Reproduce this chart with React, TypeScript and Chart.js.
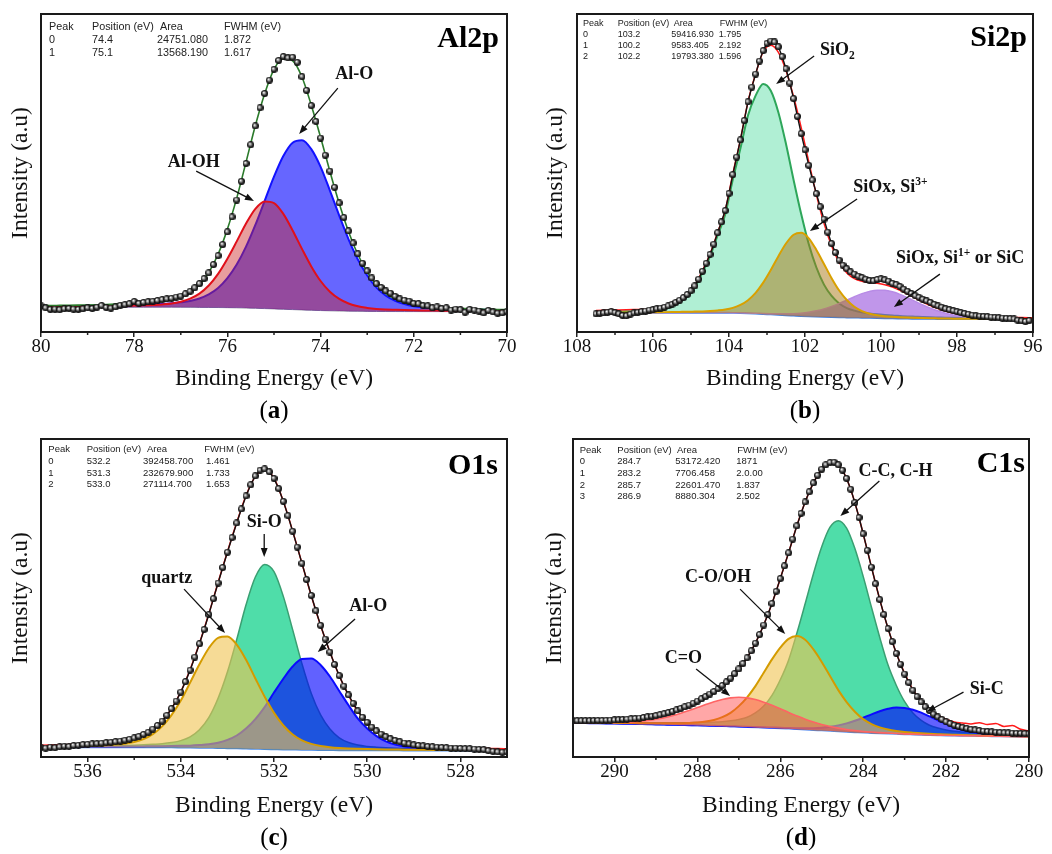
import React, { useEffect, useRef } from "react";
import { Chart, registerables } from "chart.js";

Chart.register(...registerables);

// ---------- shared sampling ----------
const fitStep = 0.2; // eV spacing of fitted curves
const dotStep = 0.1; // eV spacing of measured points

// ---------- (a) Al2p ----------
const alFitStart = 80;
const alDotStart = 80;
const alTicks = [70, 72, 74, 76, 78, 80];
const alMinorTicks = [71, 73, 75, 77, 79];
const alBackground = [7.8, 7.8, 7.8, 7.8, 7.8, 7.8, 7.8, 7.8, 7.8, 7.8, 7.8, 7.8, 7.8, 7.8, 7.8, 7.78, 7.76, 7.74, 7.72, 7.69, 7.65, 7.6, 7.53, 7.45, 7.36, 7.26, 7.15, 7.04, 6.93, 6.83, 6.74, 6.66, 6.6, 6.55, 6.51, 6.48, 6.46, 6.44, 6.43, 6.42, 6.42, 6.41, 6.41, 6.41, 6.4, 6.4, 6.4, 6.4, 6.4, 6.4, 6.4];
const alOxide = [8.09, 8.12, 8.15, 8.17, 8.2, 8.23, 8.27, 8.31, 8.37, 8.43, 8.48, 8.59, 8.71, 8.82, 9.03, 9.33, 9.76, 10.54, 11.82, 13.84, 16.95, 21.2, 26.83, 33.65, 41.26, 48.86, 55.35, 59.54, 60.33, 57.53, 51.94, 44.46, 36.6, 29.15, 22.81, 17.78, 13.96, 11.44, 9.83, 8.77, 8.11, 7.75, 7.51, 7.35, 7.24, 7.16, 7.07, 7.0, 6.95, 6.9, 6.85];
const alHydroxide = [7.98, 8.0, 8.01, 8.03, 8.05, 8.08, 8.11, 8.15, 8.19, 8.24, 8.31, 8.38, 8.51, 8.68, 8.95, 9.54, 10.51, 12.08, 14.62, 18.29, 23.05, 28.5, 34.13, 38.75, 41.06, 40.56, 37.15, 31.94, 26.13, 20.63, 16.04, 12.66, 10.4, 8.95, 8.07, 7.58, 7.26, 7.09, 6.99, 6.9, 6.84, 6.79, 6.76, 6.72, 6.69, 6.67, 6.65, 6.63, 6.61, 6.6, 6.59];
const alEnvelope = [8.27, 8.32, 8.36, 8.4, 8.45, 8.51, 8.58, 8.66, 8.76, 8.87, 8.99, 9.17, 9.42, 9.7, 10.18, 11.09, 12.51, 14.88, 18.72, 24.44, 32.35, 42.1, 53.43, 64.95, 74.96, 82.6, 86.0, 85.3, 80.2, 71.33, 61.24, 50.46, 40.4, 31.55, 24.37, 18.88, 14.76, 12.09, 10.39, 9.25, 8.54, 8.11, 7.85, 7.65, 7.5, 7.41, 7.3, 7.22, 7.15, 7.08, 7.03];
const alMeasured = [8.2, 7.6, 7.1, 7.2, 7.0, 7.3, 7.4, 7.2, 7.1, 7.3, 7.6, 7.4, 7.8, 8.3, 7.7, 7.5, 7.9, 8.4, 8.6, 8.9, 9.6, 9.0, 9.3, 9.5, 9.7, 9.9, 10.2, 10.4, 10.6, 11.0, 11.3, 12.0, 12.8, 13.9, 15.2, 16.8, 18.6, 21.2, 24.0, 27.5, 31.5, 36.2, 41.5, 47.4, 53.0, 58.9, 64.8, 70.5, 75.0, 79.2, 82.6, 85.4, 86.6, 86.2, 86.4, 84.8, 80.3, 76.0, 71.2, 66.2, 61.0, 55.6, 50.6, 45.5, 40.6, 36.0, 31.8, 28.0, 24.6, 21.6, 19.2, 17.0, 15.2, 14.0, 12.9, 12.2, 11.2, 10.4, 10.0, 9.7, 9.0, 8.9, 8.3, 8.2, 7.6, 7.9, 7.4, 7.6, 6.9, 7.2, 7.0, 6.2, 7.1, 6.9, 6.6, 6.0, 6.8, 6.3, 5.9, 6.0, 6.4];
const alTable = [
  ["Peak", "Position (eV)", "Area", "FWHM (eV)"],
  ["0", "74.4", "24751.080", "1.872"],
  ["1", "75.1", "13568.190", "1.617"],
];

// ---------- (b) Si2p ----------
const siFitStart = 107.5;
const siDotStart = 107.5;
const siTicks = [96, 98, 100, 102, 104, 106, 108];
const siMinorTicks = [97, 99, 101, 103, 105, 107];
const siBackground = [6, 6, 6, 6, 6, 6, 6, 6, 6, 6, 6, 6, 6, 6, 6, 6, 6, 5.98, 5.95, 5.9, 5.82, 5.72, 5.6, 5.47, 5.35, 5.22, 5.1, 4.98, 4.87, 4.78, 4.7, 4.63, 4.57, 4.52, 4.47, 4.42, 4.37, 4.32, 4.27, 4.22, 4.18, 4.14, 4.11, 4.08, 4.06, 4.04, 4.02, 4, 4, 4, 4, 4, 4, 4, 4, 4, 4, 4, 4];
const siDioxide = [6.35, 6.38, 6.42, 6.46, 6.5, 6.55, 6.62, 6.72, 6.95, 7.4, 8.2, 9.5, 11.5, 14.1, 18.7, 23.8, 30.4, 36.98, 47.95, 57.7, 68.12, 74.32, 78.0, 75.87, 69.05, 59.12, 47.8, 37.08, 27.57, 20.28, 14.9, 11.33, 8.97, 7.52, 6.72, 6.17, 5.82, 5.55, 5.34, 5.16, 5.03, 4.9, 4.81, 4.72, 4.64, 4.58, 4.52, 4.47, 4.44, 4.41, 4.38, 4.36, 4.34, 4.32, 4.3, 4.29, 4.28, 4.27, 4.26];
const siSuboxide3 = [6.11, 6.12, 6.13, 6.14, 6.16, 6.17, 6.19, 6.21, 6.23, 6.25, 6.28, 6.32, 6.36, 6.42, 6.48, 6.6, 6.78, 7.06, 7.59, 8.5, 10.01, 12.32, 15.51, 19.47, 23.85, 27.82, 30.6, 31.23, 29.47, 25.78, 21.4, 16.93, 13.04, 10.07, 7.94, 6.58, 5.75, 5.26, 4.96, 4.77, 4.63, 4.53, 4.45, 4.38, 4.32, 4.28, 4.24, 4.2, 4.19, 4.17, 4.16, 4.15, 4.14, 4.13, 4.12, 4.12, 4.11, 4.11, 4.1];
const siSuboxide1 = [6.04, 6.04, 6.05, 6.05, 6.05, 6.06, 6.06, 6.07, 6.07, 6.08, 6.08, 6.09, 6.09, 6.1, 6.1, 6.11, 6.12, 6.1, 6.08, 6.04, 5.98, 5.91, 5.82, 5.75, 5.71, 5.72, 5.76, 5.91, 6.2, 6.66, 7.25, 8.05, 8.99, 10.04, 11.09, 12.06, 12.78, 13.16, 13.11, 12.63, 11.82, 10.76, 9.63, 8.5, 7.48, 6.59, 5.9, 5.33, 4.93, 4.66, 4.48, 4.36, 4.28, 4.22, 4.19, 4.16, 4.15, 4.13, 4.12];
const siEnvelope = [6.8, 6.85, 6.9, 6.95, 7.0, 7.05, 7.1, 7.2, 7.4, 7.85, 8.56, 9.91, 11.95, 14.62, 19.28, 24.51, 31.3, 38.18, 49.72, 60.44, 72.47, 81.11, 88.13, 90.15, 87.91, 82.22, 73.96, 64.26, 53.5, 43.16, 34.15, 27.05, 21.86, 18.59, 16.81, 15.97, 15.61, 15.33, 14.87, 14.12, 13.12, 11.91, 10.67, 9.44, 8.32, 7.37, 6.62, 6.0, 5.56, 5.24, 5.02, 4.87, 4.76, 4.67, 4.61, 4.57, 4.54, 4.51, 4.48];
const siMeasured = [5.7, 5.9, 6.0, 6.2, 6.4, 6.1, 5.7, 5.2, 5.1, 5.6, 6.0, 6.2, 6.4, 6.6, 6.9, 7.0, 7.3, 7.5, 7.8, 8.2, 8.7, 9.3, 10.0, 10.8, 11.8, 13.0, 14.5, 16.6, 19.1, 21.6, 24.4, 27.6, 31.2, 34.6, 38.2, 43.6, 49.5, 55.0, 60.4, 66.5, 72.4, 77.0, 81.1, 85.2, 88.5, 90.8, 91.5, 91.2, 89.7, 86.6, 82.8, 78.3, 73.4, 67.8, 62.4, 57.3, 52.4, 47.8, 43.5, 39.4, 35.5, 31.4, 27.8, 25.0, 22.6, 21.0, 19.9, 18.9, 18.2, 17.6, 17.1, 16.6, 16.2, 16.1, 16.5, 16.7, 16.4, 16.0, 15.3, 14.9, 14.3, 13.5, 12.8, 12.1, 11.4, 10.9, 10.3, 9.8, 9.3, 8.7, 8.2, 7.8, 7.3, 7.0, 6.7, 6.4, 6.1, 5.8, 5.6, 5.3, 5.1, 5.0, 4.9, 4.8, 4.7, 4.6, 4.5, 4.4, 4.3, 4.2, 4.1, 3.7, 3.5, 3.3, 3.6];
const siTable = [
  ["Peak", "Position (eV)", "Area", "FWHM (eV)"],
  ["0", "103.2", "59416.930", "1.795"],
  ["1", "100.2", "9583.405", "2.192"],
  ["2", "102.2", "19793.380", "1.596"],
];

// ---------- (c) O1s ----------
const oFitStart = 537;
const oDotStart = 537;
const oTicks = [528, 530, 532, 534, 536];
const oMinorTicks = [529, 531, 533, 535];
const oBackground = [3, 3, 3, 3, 3, 3, 3, 3, 3, 3, 3, 3, 3, 2.98, 2.96, 2.93, 2.9, 2.86, 2.81, 2.76, 2.7, 2.64, 2.57, 2.5, 2.43, 2.37, 2.31, 2.26, 2.21, 2.17, 2.14, 2.11, 2.08, 2.06, 2.05, 2.04, 2.03, 2.02, 2.01, 2, 2, 2, 2, 2, 2, 2, 2, 2, 2, 2, 2];
const oSilica = [3.26, 3.28, 3.3, 3.34, 3.37, 3.41, 3.45, 3.51, 3.56, 3.64, 3.73, 3.85, 4.0, 4.17, 4.53, 5.15, 6.33, 8.56, 12.36, 18.46, 26.7, 36.94, 47.87, 56.6, 60.53, 58.27, 50.51, 40.06, 29.31, 19.97, 13.24, 8.81, 6.04, 4.56, 3.74, 3.32, 3.08, 2.9, 2.77, 2.67, 2.59, 2.52, 2.46, 2.42, 2.38, 2.35, 2.31, 2.29, 2.26, 2.24, 2.23];
const oQuartz = [3.3, 3.33, 3.36, 3.41, 3.46, 3.53, 3.6, 3.73, 3.9, 4.2, 4.73, 5.66, 7.21, 9.64, 13.16, 17.73, 23.4, 29.16, 34.21, 37.46, 37.9, 35.34, 30.57, 24.7, 18.93, 13.87, 9.91, 7.06, 5.21, 4.12, 3.47, 3.09, 2.85, 2.7, 2.6, 2.52, 2.45, 2.39, 2.35, 2.31, 2.28, 2.26, 2.24, 2.22, 2.21, 2.2, 2.19, 2.18, 2.17, 2.16, 2.15];
const oAlumina = [3.13, 3.14, 3.15, 3.16, 3.17, 3.19, 3.21, 3.23, 3.25, 3.27, 3.29, 3.33, 3.37, 3.4, 3.44, 3.5, 3.57, 3.75, 4.0, 4.5, 5.37, 6.76, 8.95, 11.93, 15.73, 20.27, 24.61, 28.46, 30.81, 30.97, 28.94, 25.31, 20.78, 16.26, 12.05, 8.94, 6.55, 4.92, 3.9, 3.28, 2.93, 2.7, 2.58, 2.49, 2.43, 2.38, 2.34, 2.3, 2.28, 2.25, 2.23];
const oEnvelope = [3.69, 3.75, 3.81, 3.91, 4.0, 4.13, 4.26, 4.47, 4.71, 5.11, 5.75, 6.84, 8.58, 11.25, 15.21, 20.52, 27.5, 35.75, 44.95, 54.9, 64.57, 73.76, 82.25, 88.23, 90.33, 87.67, 80.41, 71.06, 60.91, 50.72, 41.37, 32.99, 25.51, 19.4, 14.29, 10.7, 8.02, 6.17, 5.0, 4.26, 3.8, 3.48, 3.28, 3.13, 3.02, 2.93, 2.84, 2.77, 2.71, 2.65, 2.61];
const oMeasured = [3.0, 2.8, 3.1, 2.9, 3.2, 3.4, 3.3, 3.6, 3.7, 3.9, 4.0, 4.1, 4.2, 4.35, 4.5, 4.65, 4.8, 5.0, 5.3, 5.6, 6.0, 6.5, 7.1, 7.8, 8.8, 9.9, 11.3, 13.1, 15.2, 17.6, 20.4, 23.7, 27.3, 31.4, 35.6, 40.1, 44.8, 49.8, 54.7, 59.6, 64.4, 69.0, 73.6, 78.0, 82.1, 85.6, 88.4, 90.2, 90.6, 89.7, 87.6, 84.4, 80.4, 75.9, 71.0, 66.0, 60.9, 55.8, 50.8, 46.0, 41.4, 37.1, 33.0, 29.1, 25.6, 22.3, 19.5, 16.9, 14.5, 12.5, 10.9, 9.4, 8.2, 7.2, 6.4, 5.7, 5.2, 4.8, 4.4, 4.1, 3.8, 3.6, 3.5, 3.3, 3.2, 3.1, 3.0, 2.9, 2.8, 2.8, 2.7, 2.6, 2.6, 2.5, 2.4, 2.3, 2.0, 1.8, 1.6, 1.5, 1.6];
const oTable = [
  ["Peak", "Position (eV)", "Area", "FWHM (eV)"],
  ["0", "532.2", "392458.700", "1.461"],
  ["1", "531.3", "232679.900", "1.733"],
  ["2", "533.0", "271114.700", "1.653"],
];

// ---------- (d) C1s ----------
const cFitStart = 291;
const cDotStart = 291;
const cTicks = [280, 282, 284, 286, 288, 290];
const cMinorTicks = [281, 283, 285, 287, 289];
const cBackground = [10.7, 10.66, 10.62, 10.58, 10.54, 10.5, 10.44, 10.38, 10.32, 10.26, 10.2, 10.14, 10.08, 10.02, 9.96, 9.9, 9.82, 9.74, 9.66, 9.58, 9.5, 9.4, 9.3, 9.2, 9.1, 9.0, 8.86, 8.72, 8.58, 8.44, 8.3, 8.16, 8.02, 7.88, 7.74, 7.6, 7.5, 7.4, 7.3, 7.2, 7.1, 7.02, 6.94, 6.86, 6.78, 6.7, 6.66, 6.62, 6.58, 6.54, 6.5, 6.46, 6.42, 6.38, 6.34, 6.3];
const cHydrocarbon = [10.98, 10.95, 10.93, 10.91, 10.9, 10.88, 10.85, 10.82, 10.8, 10.78, 10.78, 10.76, 10.76, 10.78, 10.79, 10.84, 10.88, 10.96, 11.09, 11.37, 11.82, 12.52, 13.87, 16.03, 19.4, 24.3, 30.46, 38.92, 48.18, 57.64, 66.1, 72.26, 74.32, 71.98, 65.54, 56.8, 47.1, 37.6, 28.9, 22.5, 17.4, 13.85, 11.51, 9.98, 9.1, 8.49, 8.09, 7.84, 7.64, 7.48, 7.33, 7.22, 7.1, 7.0, 6.92, 6.82];
const cHydroxyl = [10.86, 10.84, 10.81, 10.79, 10.76, 10.75, 10.71, 10.67, 10.64, 10.62, 10.6, 10.59, 10.6, 10.64, 10.71, 10.87, 11.14, 11.64, 12.53, 13.89, 16.0, 18.78, 22.3, 26.5, 30.7, 34.4, 37.16, 38.02, 36.88, 33.84, 29.9, 25.46, 21.02, 17.26, 14.24, 11.91, 10.37, 9.3, 8.62, 8.17, 7.85, 7.64, 7.46, 7.31, 7.18, 7.06, 6.98, 6.91, 6.85, 6.79, 6.72, 6.67, 6.61, 6.56, 6.5, 6.45];
const cCarbonyl = [10.87, 10.85, 10.84, 10.84, 10.85, 10.9, 10.94, 11.05, 11.22, 11.49, 11.86, 12.33, 12.99, 13.74, 14.61, 15.55, 16.48, 17.37, 18.11, 18.6, 18.79, 18.6, 18.07, 17.25, 16.26, 15.16, 14.0, 12.91, 11.88, 10.98, 10.22, 9.58, 9.07, 8.65, 8.32, 8.04, 7.84, 7.68, 7.53, 7.4, 7.28, 7.18, 7.09, 7.0, 6.91, 6.82, 6.77, 6.73, 6.68, 6.64, 6.59, 6.55, 6.5, 6.46, 6.42, 6.37];
const cCarbide = [10.73, 10.69, 10.65, 10.61, 10.57, 10.53, 10.48, 10.42, 10.36, 10.3, 10.25, 10.19, 10.13, 10.08, 10.02, 9.97, 9.9, 9.82, 9.75, 9.67, 9.6, 9.52, 9.43, 9.34, 9.27, 9.2, 9.11, 9.04, 9.02, 9.07, 9.22, 9.5, 9.95, 10.58, 11.4, 12.36, 13.41, 14.4, 15.15, 15.54, 15.44, 14.87, 13.94, 12.77, 11.54, 10.36, 9.36, 8.55, 7.92, 7.46, 7.13, 6.9, 6.74, 6.63, 6.54, 6.47];
const cRaw = [11.6, 11.3, 11.5, 11.3, 11.6, 11.7, 11.8, 12.2, 12.6, 13.0, 13.5, 13.9, 14.5, 15.4, 16.3, 17.6, 19.0, 20.6, 22.5, 24.8, 27.7, 31.2, 35.8, 41.5, 48.3, 56.1, 64.2, 72.7, 80.2, 86.2, 90.5, 92.8, 92.0, 87.6, 80.0, 70.2, 59.7, 49.5, 40.4, 32.6, 26.3, 21.2, 17.6, 15.0, 13.2, 11.9, 11.0, 10.7, 10.4, 10.8, 10.2, 10.5, 9.6, 9.9, 8.7, 8.2];
const cMeasured = [11.4, 11.4, 11.4, 11.4, 11.4, 11.45, 11.5, 11.5, 11.55, 11.6, 11.65, 11.7, 11.8, 11.9, 12.0, 12.1, 12.25, 12.4, 12.6, 12.8, 13.0, 13.3, 13.6, 13.95, 14.35, 14.8, 15.3, 15.8, 16.35, 16.95, 17.6, 18.3, 19.0, 19.8, 20.6, 21.5, 22.5, 23.6, 24.8, 26.2, 27.7, 29.4, 31.2, 33.4, 35.8, 38.5, 41.5, 44.8, 48.3, 52.1, 56.1, 60.1, 64.2, 68.5, 72.7, 76.6, 80.2, 83.4, 86.2, 88.6, 90.5, 91.9, 92.6, 92.7, 91.9, 90.2, 87.6, 84.2, 80.0, 75.3, 70.2, 65.0, 59.7, 54.5, 49.5, 44.8, 40.4, 36.3, 32.6, 29.2, 26.1, 23.4, 21.0, 19.0, 17.3, 15.8, 14.6, 13.5, 12.6, 11.8, 11.1, 10.5, 10.0, 9.6, 9.25, 8.95, 8.7, 8.5, 8.3, 8.15, 8.0, 7.9, 7.8, 7.7, 7.6, 7.55, 7.5, 7.45, 7.4, 7.35, 7.3];
const cTable = [
  ["Peak", "Position (eV)", "Area", "FWHM (eV)"],
  ["0", "284.7", "53172.420", "1871"],
  ["1", "283.2", "7706.458", "2.0.00"],
  ["2", "285.7", "22601.470", "1.837"],
  ["3", "286.9", "8880.304", "2.502"],
];

// ---------- helpers ----------
const toPoints = (start: number, step: number, ys: number[]) =>
  ys.map((y, i) => ({ x: Math.round((start - i * step) * 100) / 100, y }));

type Seg = { t: string; sub?: boolean; sup?: boolean };
type Note = { segs: Seg[]; x: number; y: number; arrow: number[] };

const SERIF = '"Liberation Serif", "Times New Roman", serif';
const SANS = '"Liberation Sans", Arial, sans-serif';

function makeSphere(d: number) {
  const c = document.createElement("canvas");
  c.width = d;
  c.height = d;
  const g = c.getContext("2d")!;
  const r = d / 2;
  const grad = g.createRadialGradient(r * 0.72, r * 0.72, 0.2, r, r, r);
  grad.addColorStop(0, "#ffffff");
  grad.addColorStop(0.3, "#9a9a9a");
  grad.addColorStop(0.65, "#2a2a2a");
  grad.addColorStop(1, "#050505");
  g.fillStyle = grad;
  g.beginPath();
  g.arc(r, r, r, 0, Math.PI * 2);
  g.fill();
  return c;
}

function dotsSet(data: any[], sphere: HTMLCanvasElement, withLine: boolean) {
  return {
    data,
    showLine: withLine,
    borderColor: "#111",
    borderWidth: 1.4,
    pointStyle: sphere,
    pointRadius: 3.5,
    pointHoverRadius: 3.5,
    tension: 0,
    fill: false,
  };
}
function lineSet(data: any[], color: string, width: number, fillTarget?: number, fillColor?: string) {
  return {
    data,
    borderColor: color,
    borderWidth: width,
    pointRadius: 0,
    cubicInterpolationMode: "monotone",
    fill: fillTarget === undefined ? false : fillTarget,
    backgroundColor: fillColor || "transparent",
  };
}

const HEADER = 0;

interface PanelSpec {
  key: string;
  left: number;
  top: number;
  width: number;
  height: number;
  area: { left: number; top: number; right: number; bottom: number };
  xMin: number;
  xMax: number;
  majorTicks: number[];
  minorTicks: number[];
  yTitlePad: number;
  build: (s: HTMLCanvasElement) => any[];
  table: { rows: string[][]; headX: number[]; cellX: number[]; rowY: number[]; size: number };
  title: { text: string; right: number; baseline: number };
  notes: Note[];
  caption: { letter: string; x: number; baseline: number };
}

const panels: PanelSpec[] = [
  {
    key: "a",
    left: 0,
    top: 0,
    width: 526,
    height: 427,
    area: { left: 41, top: 14, right: 507, bottom: 332 },
    xMin: 70,
    xMax: 80,
    majorTicks: alTicks,
    minorTicks: alMinorTicks,
    yTitlePad: 7,
    build: (s) => [
      dotsSet(toPoints(alDotStart, dotStep, alMeasured), s, false),
      lineSet(toPoints(alFitStart, fitStep, alEnvelope), "#2b7a2b", 1.6),
      lineSet(toPoints(alFitStart, fitStep, alHydroxide), "#e0101a", 2, 4, "rgba(205,40,40,0.45)"),
      lineSet(toPoints(alFitStart, fitStep, alOxide), "#1212ff", 2, 4, "rgba(0,0,255,0.6)"),
      lineSet(toPoints(alFitStart, fitStep, alBackground), "#9090a0", 1),
    ],
    table: { rows: alTable, headX: [49, 92, 160, 224], cellX: [49, 92, 157, 224], rowY: [26.7, 39.9, 53.1], size: 10.8 },
    title: { text: "Al2p", right: 499, baseline: 46.5 },
    notes: [
      { segs: [{ t: "Al-O" }], x: 73.28, y: 81.4, arrow: [73.63, 76.7, 74.46, 62.3] },
      { segs: [{ t: "Al-OH" }], x: 76.72, y: 53.8, arrow: [76.67, 50.6, 75.43, 41.2] },
    ],
    caption: { letter: "a", x: 274, baseline: 418 },
  },
  {
    key: "b",
    left: 526,
    top: 0,
    width: 526,
    height: 427,
    area: { left: 51, top: 14, right: 507, bottom: 332 },
    xMin: 96,
    xMax: 108,
    majorTicks: siTicks,
    minorTicks: siMinorTicks,
    yTitlePad: 16,
    build: (s) => [
      dotsSet(toPoints(siDotStart, dotStep, siMeasured), s, true),
      lineSet(toPoints(siFitStart, fitStep, siEnvelope), "#ff1a1a", 1.5),
      lineSet(toPoints(siFitStart, fitStep, siSuboxide3), "#d9a000", 2, 5, "rgba(170,120,20,0.5)"),
      lineSet(toPoints(siFitStart, fitStep, siSuboxide1), "#b88be6", 1.5, 5, "rgba(150,80,220,0.6)"),
      lineSet(toPoints(siFitStart, fitStep, siDioxide), "#2ea65a", 2, 5, "rgba(80,220,160,0.45)"),
      lineSet(toPoints(siFitStart, fitStep, siBackground), "#3b7de0", 1.5),
    ],
    table: { rows: siTable, headX: [57, 91.7, 147.7, 193.7], cellX: [57, 91.7, 145.3, 192.7], rowY: [24, 35, 46, 57], size: 9 },
    title: { text: "Si2p", right: 501, baseline: 46 },
    notes: [
      { segs: [{ t: "SiO" }, { t: "2", sub: true }], x: 101.15, y: 89.0, arrow: [101.76, 86.8, 102.76, 78.0] },
      { segs: [{ t: "SiOx, Si" }, { t: "3+", sup: true }], x: 99.75, y: 46.0, arrow: [100.63, 41.8, 101.87, 31.8] },
      { segs: [{ t: "SiOx, Si" }, { t: "1+", sup: true }, { t: " or SiC" }], x: 97.92, y: 23.6, arrow: [98.45, 18.2, 99.66, 7.9] },
    ],
    caption: { letter: "b", x: 279, baseline: 418 },
  },
  {
    key: "c",
    left: 0,
    top: 427,
    width: 526,
    height: 427,
    area: { left: 41, top: 12, right: 507, bottom: 330 },
    xMin: 527,
    xMax: 537,
    majorTicks: oTicks,
    minorTicks: oMinorTicks,
    yTitlePad: 7,
    build: (s) => [
      dotsSet(toPoints(oDotStart, dotStep, oMeasured), s, true),
      lineSet(toPoints(oFitStart, fitStep, oEnvelope), "#ff1a1a", 1.5),
      lineSet(toPoints(oFitStart, fitStep, oQuartz), "#d49b00", 2, 5, "rgba(240,195,80,0.6)"),
      lineSet(toPoints(oFitStart, fitStep, oAlumina), "#0a0aff", 2, 5, "rgba(0,0,255,0.62)"),
      lineSet(toPoints(oFitStart, fitStep, oSilica), "#3a9f72", 1.5, 5, "rgba(20,210,140,0.75)"),
      lineSet(toPoints(oFitStart, fitStep, oBackground), "#4a8be8", 1.5),
    ],
    table: { rows: oTable, headX: [48.3, 86.7, 147, 204.3], cellX: [48.3, 86.7, 143, 206], rowY: [22.7, 34.3, 46, 57.7], size: 9.5 },
    title: { text: "O1s", right: 498, baseline: 47 },
    notes: [
      { segs: [{ t: "Si-O" }], x: 532.21, y: 74.2, arrow: [532.21, 70.1, 532.21, 62.9] },
      { segs: [{ t: "quartz" }], x: 534.3, y: 56.6, arrow: [533.93, 52.8, 533.05, 39.0] },
      { segs: [{ t: "Al-O" }], x: 529.98, y: 47.8, arrow: [530.26, 43.4, 531.06, 33.0] },
    ],
    caption: { letter: "c", x: 274, baseline: 418 },
  },
  {
    key: "d",
    left: 526,
    top: 427,
    width: 526,
    height: 427,
    area: { left: 47, top: 12, right: 503, bottom: 330 },
    xMin: 280,
    xMax: 291,
    majorTicks: cTicks,
    minorTicks: cMinorTicks,
    yTitlePad: 15,
    build: (s) => [
      dotsSet(toPoints(cDotStart, dotStep, cMeasured), s, true),
      lineSet(toPoints(cFitStart, fitStep, cRaw), "#ff1a1a", 1.5),
      lineSet(toPoints(cFitStart, fitStep, cCarbonyl), "#ff6464", 1.6, 6, "rgba(255,60,60,0.45)"),
      lineSet(toPoints(cFitStart, fitStep, cHydroxyl), "#d49b00", 2, 6, "rgba(240,195,80,0.6)"),
      lineSet(toPoints(cFitStart, fitStep, cCarbide), "#0a0aff", 2, 6, "rgba(0,0,255,0.62)"),
      lineSet(toPoints(cFitStart, fitStep, cHydrocarbon), "#3a9f72", 1.5, 6, "rgba(20,210,140,0.75)"),
      lineSet(toPoints(cFitStart, fitStep, cBackground), "#5b8ff0", 1.5),
    ],
    table: { rows: cTable, headX: [53.7, 91.3, 151, 211.3], cellX: [53.7, 91.3, 149.3, 210.3], rowY: [23, 34.7, 46.3, 58, 69.7], size: 9.5 },
    title: { text: "C1s", right: 499, baseline: 45 },
    notes: [
      { segs: [{ t: "C-C, C-H" }], x: 283.22, y: 90.3, arrow: [283.61, 86.8, 284.55, 75.8] },
      { segs: [{ t: "C-O/OH" }], x: 287.5, y: 56.9, arrow: [286.97, 52.8, 285.88, 38.7] },
      { segs: [{ t: "C=O" }], x: 288.34, y: 31.4, arrow: [288.03, 27.7, 287.21, 19.2] },
      { segs: [{ t: "Si-C" }], x: 281.02, y: 21.7, arrow: [281.58, 20.4, 282.47, 14.2] },
    ],
    caption: { letter: "d", x: 275, baseline: 418 },
  },
];

function drawRich(ctx: CanvasRenderingContext2D, segs: Seg[], cx: number, cy: number) {
  const base = 18;
  const small = 11.5;
  const parts = segs.map((s) => {
    const size = s.sub || s.sup ? small : base;
    ctx.font = `bold ${size}px ${SERIF}`;
    return { ...s, size, w: ctx.measureText(s.t).width };
  });
  const total = parts.reduce((a, p) => a + p.w, 0);
  let x = cx - total / 2;
  const baseY = cy + 6;
  ctx.textAlign = "left";
  ctx.textBaseline = "alphabetic";
  ctx.fillStyle = "#111";
  for (const p of parts) {
    ctx.font = `bold ${p.size}px ${SERIF}`;
    const y = p.sub ? baseY + 4 : p.sup ? baseY - 7 : baseY;
    ctx.fillText(p.t, x, y);
    x += p.w;
  }
}

function drawArrow(ctx: CanvasRenderingContext2D, x1: number, y1: number, x2: number, y2: number) {
  const ang = Math.atan2(y2 - y1, x2 - x1);
  const L = 9;
  const W = 3.4;
  ctx.strokeStyle = "#111";
  ctx.fillStyle = "#111";
  ctx.lineWidth = 1.3;
  ctx.beginPath();
  ctx.moveTo(x1, y1);
  ctx.lineTo(x2 - Math.cos(ang) * L * 0.8, y2 - Math.sin(ang) * L * 0.8);
  ctx.stroke();
  const bx = x2 - L * Math.cos(ang);
  const by = y2 - L * Math.sin(ang);
  ctx.beginPath();
  ctx.moveTo(x2, y2);
  ctx.lineTo(bx + W * Math.sin(ang), by - W * Math.cos(ang));
  ctx.lineTo(bx - W * Math.sin(ang), by + W * Math.cos(ang));
  ctx.closePath();
  ctx.fill();
}

function decor(spec: PanelSpec) {
  return {
    id: "decor",
    afterDraw(chart: any) {
      const { ctx, chartArea: a, scales } = chart;
      const xs = scales.x;
      const ys = scales.y;
      ctx.save();
      // minor ticks
      ctx.strokeStyle = "#222";
      ctx.lineWidth = 1.5;
      for (const v of spec.minorTicks) {
        const px = xs.getPixelForValue(v);
        ctx.beginPath();
        ctx.moveTo(px, a.bottom);
        ctx.lineTo(px, a.bottom + 3);
        ctx.stroke();
      }
      // frame
      ctx.lineWidth = 2;
      ctx.strokeStyle = "#1a1a1a";
      ctx.strokeRect(a.left, a.top, a.right - a.left, a.bottom - a.top);
      // table
      const t = spec.table;
      ctx.font = `${t.size}px ${SANS}`;
      ctx.fillStyle = "#222";
      ctx.textAlign = "left";
      ctx.textBaseline = "middle";
      t.rows.forEach((row, r) => {
        row.forEach((cell, c) => {
          const xsArr = r === HEADER ? t.headX : t.cellX;
          ctx.fillText(cell, xsArr[c], t.rowY[r]);
        });
      });
      // panel title
      ctx.font = `bold 30px ${SERIF}`;
      ctx.fillStyle = "#000";
      ctx.textAlign = "right";
      ctx.textBaseline = "alphabetic";
      ctx.fillText(spec.title.text, spec.title.right, spec.title.baseline);
      // annotations
      for (const n of spec.notes) {
        drawRich(ctx, n.segs, xs.getPixelForValue(n.x), ys.getPixelForValue(n.y));
        const [ax1, ay1, ax2, ay2] = n.arrow;
        drawArrow(ctx, xs.getPixelForValue(ax1), ys.getPixelForValue(ay1), xs.getPixelForValue(ax2), ys.getPixelForValue(ay2));
      }
      // caption "(x)"
      const cap = spec.caption;
      ctx.textAlign = "left";
      ctx.textBaseline = "alphabetic";
      ctx.fillStyle = "#000";
      ctx.font = `25px ${SERIF}`;
      const wp = ctx.measureText("(").width;
      const wq = ctx.measureText(")").width;
      ctx.font = `bold 25px ${SERIF}`;
      const wl = ctx.measureText(cap.letter).width;
      let x0 = cap.x - (wp + wl + wq) / 2;
      ctx.font = `25px ${SERIF}`;
      ctx.fillText("(", x0, cap.baseline);
      ctx.font = `bold 25px ${SERIF}`;
      ctx.fillText(cap.letter, x0 + wp, cap.baseline);
      ctx.font = `25px ${SERIF}`;
      ctx.fillText(")", x0 + wp + wl, cap.baseline);
      ctx.restore();
    },
  };
}

function Panel({ spec }: { spec: PanelSpec }) {
  const ref = useRef<HTMLCanvasElement>(null);
  useEffect(() => {
    const sphere = makeSphere(7);
    const chart = new Chart(ref.current!, {
      type: "line",
      data: { datasets: spec.build(sphere) as any },
      options: {
        responsive: false,
        animation: false,
        devicePixelRatio: 1,
        events: [],
        layout: { padding: { left: 0, top: spec.area.top, right: spec.width - spec.area.right, bottom: 0 } },
        plugins: { legend: { display: false }, tooltip: { enabled: false } },
        scales: {
          x: {
            type: "linear",
            reverse: true,
            min: spec.xMin,
            max: spec.xMax,
            afterBuildTicks: (ax: any) => {
              ax.ticks = spec.majorTicks.map((v) => ({ value: v }));
            },
            afterFit: (ax: any) => {
              ax.height = spec.height - spec.area.bottom;
            },
            ticks: {
              autoSkip: false,
              maxRotation: 0,
              minRotation: 0,
              padding: -1.5,
              color: "#111",
              font: { family: SERIF, size: 19 },
              callback: (v: any) => String(v),
            },
            grid: { display: true, drawOnChartArea: false, drawTicks: true, tickLength: 5, color: "#222", lineWidth: 1.5 },
            border: { display: false },
            title: {
              display: true,
              text: "Binding Energy (eV)",
              color: "#111",
              font: { family: SERIF, size: 23.5 },
              padding: { top: 0, bottom: 34 },
            },
          },
          y: {
            type: "linear",
            min: 0,
            max: 100,
            afterFit: (ax: any) => {
              ax.width = spec.area.left;
            },
            ticks: { display: false },
            grid: { display: false },
            border: { display: false },
            title: {
              display: true,
              text: "Intensity (a.u)",
              color: "#111",
              font: { family: SERIF, size: 23.5 },
              padding: { top: spec.yTitlePad, bottom: 0 },
            },
          },
        },
      } as any,
      plugins: [decor(spec) as any],
    });
    return () => chart.destroy();
  }, [spec]);
  return (
    <canvas
      ref={ref}
      width={spec.width}
      height={spec.height}
      style={{ position: "absolute", left: spec.left, top: spec.top, width: spec.width, height: spec.height }}
    />
  );
}

export default function App() {
  return (
    <div style={{ position: "absolute", left: 0, top: 0, width: 1052, height: 854, background: "#fff" }}>
      {panels.map((p) => (
        <Panel key={p.key} spec={p} />
      ))}
    </div>
  );
}
